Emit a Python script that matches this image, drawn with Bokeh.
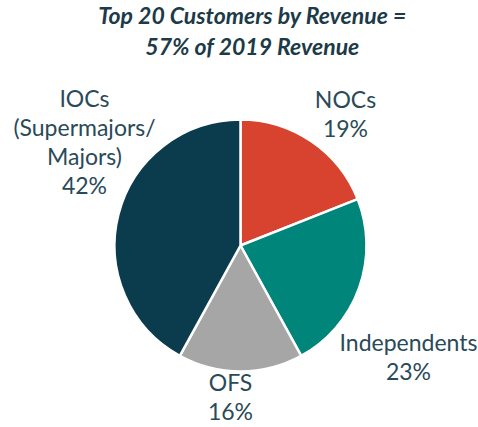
import math
from bokeh.plotting import figure
from bokeh.models import ColumnDataSource, Range1d
from bokeh.core.properties import value
from bokeh.embed import file_html
from bokeh.resources import INLINE

# ---- data ----
categories = ["NOCs", "Independents", "OFS", "IOCs"]
label_names = ["NOCs", "Independents", "OFS", "IOCs\n(Supermajors/\nMajors)"]
shares = [19, 23, 16, 42]
colors = ["#d8432f", "#00857a", "#a6a6a6", "#0b3c4d"]
title_lines = ["Top 20 Customers by Revenue =", "57% of 2019 Revenue"]

# ---- layout (screen pixel coordinates) ----
W, H = 478, 427
OFF = 0
PAGE_H = 427

def sy(y):
    return PAGE_H - y

cx, cy, r = 240, 245, 126
label_pos = {
    "NOCs": (345, 113),
    "Independents": (408, 356),
    "OFS": (230, 396),
    "IOCs": (84, 141),
}

total = sum(shares)
starts, ends = [], []
cum = 0.0
for s in shares:
    c0 = cum / total
    cum += s
    c1 = cum / total
    starts.append(math.pi / 2 - 2 * math.pi * c1)
    ends.append(math.pi / 2 - 2 * math.pi * c0)

src = ColumnDataSource(dict(
    cat=categories, share=shares, color=colors,
    start=starts, end=ends,
    x=[cx] * len(shares), y=[sy(cy)] * len(shares),
))

lab_src = ColumnDataSource(dict(
    text=[f"{n}\n{s}%" for n, s in zip(label_names, shares)],
    x=[label_pos[c][0] for c in categories],
    y=[sy(label_pos[c][1]) for c in categories],
))

p = figure(width=W, height=H, output_backend="svg", toolbar_location=None,
           x_range=Range1d(OFF, OFF + W), y_range=Range1d(PAGE_H - OFF - H, PAGE_H - OFF),
           min_border=0, outline_line_color=None)
p.axis.visible = False
p.grid.visible = False
p.background_fill_color = "white"
p.border_fill_color = "white"

p.wedge(x="x", y="y", radius=r, start_angle="start", end_angle="end",
        fill_color="color", line_color="white", line_width=2.5, source=src)

p.text(x="x", y="y", text="text", source=lab_src,
       text_font=value("Lato"), text_font_size="23px", text_color="#2a4a58",
       text_align="center", text_baseline="middle", text_line_height=1.03)

tsrc = ColumnDataSource(dict(text=["\n".join(title_lines)], x=[252], y=[sy(30)]))
p.text(x="x", y="y", text="text", source=tsrc,
       text_font=value("Lato"), text_font_size="23px", text_font_style="bold italic",
       text_color="#1c3a47", text_align="center", text_baseline="middle",
       text_line_height=1.1)

open("out.html", "w").write(file_html(p, INLINE))
